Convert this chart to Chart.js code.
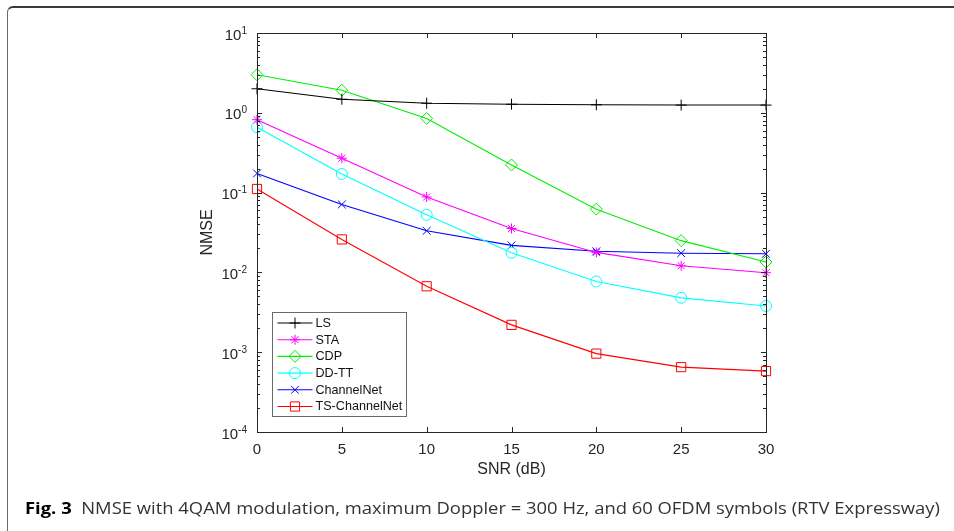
<!DOCTYPE html>
<html>
<head>
<meta charset="utf-8">
<script src="https://cdn.jsdelivr.net/npm/chart.js@4.4.0/dist/chart.umd.min.js"></script>
<style>
  html, body { margin: 0; padding: 0; background: #fff; }
  #wrap { position: relative; width: 954px; height: 531px; overflow: hidden; }
  #frame {
    position: absolute; left: 7px; top: 6px; width: 980px; height: 560px;
    border-top: 2px solid #3a3a3a; border-left: 1.5px solid #6a6a6a;
    border-top-left-radius: 6px;
  }
  #chart { position: absolute; left: 0; top: 0; }
  #caption {
    position: absolute; left: 25px; top: 497px;
    font-family: "Open Sans", "Noto Sans", sans-serif; font-size: 16px;
    color: #333; white-space: nowrap; transform-origin: 0 0;
  }
  #caption b { color: #000; }
</style>
</head>
<body>
<div id="wrap">
  <div id="frame"></div>
  <canvas id="chart" width="954" height="531"></canvas>
  <div id="caption"><b>Fig. 3</b>&nbsp; NMSE with 4QAM modulation, maximum Doppler = 300 Hz, and 60 OFDM symbols (RTV Expressway)</div>
</div>
<script>
// values
const snr = [0, 5, 10, 15, 20, 25, 30];
const nmseLS = [2.0, 1.48, 1.32, 1.28, 1.26, 1.25, 1.25];
const nmseSTA = [0.82, 0.27, 0.088, 0.0355, 0.0178, 0.0121, 0.0099];
const nmseCDP = [3.0, 1.92, 0.85, 0.222, 0.062, 0.025, 0.0135];
const nmseDDTT = [0.66, 0.171, 0.0526, 0.0176, 0.0077, 0.0048, 0.0038];
const nmseChannelNet = [0.174, 0.071, 0.0332, 0.0218, 0.0184, 0.0174, 0.0171];
const nmseTSChannelNet = [0.111, 0.0259, 0.0067, 0.0022, 0.00096, 0.00065, 0.00058];

const xTicks = [0, 5, 10, 15, 20, 25, 30];
const yExponents = [-4, -3, -2, -1, 0, 1];

const axisColor = "#262626";
const fontFam = '"Liberation Sans", Arial, sans-serif';

function series(label, values, color, style, radius) {
  return {
    label: label,
    data: snr.map((x, i) => ({ x: x, y: values[i] })),
    borderColor: color,
    backgroundColor: "rgba(0,0,0,0)",
    borderWidth: 1.1,
    pointStyle: style,
    pointRadius: radius,
    pointHoverRadius: radius,
    pointBorderColor: color,
    pointBackgroundColor: "rgba(0,0,0,0)",
    pointBorderWidth: 1,
    tension: 0,
    clip: false
  };
}

// small marker painter for the legend samples
function drawMarker(ctx, style, x, y, r) {
  ctx.beginPath();
  if (style === "cross") {
    ctx.moveTo(x - r, y); ctx.lineTo(x + r, y);
    ctx.moveTo(x, y - r); ctx.lineTo(x, y + r);
  } else if (style === "crossRot") {
    const d = r * Math.SQRT1_2;
    ctx.moveTo(x - d, y - d); ctx.lineTo(x + d, y + d);
    ctx.moveTo(x - d, y + d); ctx.lineTo(x + d, y - d);
  } else if (style === "star") {
    const d = r * Math.SQRT1_2;
    ctx.moveTo(x - r, y); ctx.lineTo(x + r, y);
    ctx.moveTo(x, y - r); ctx.lineTo(x, y + r);
    ctx.moveTo(x - d, y - d); ctx.lineTo(x + d, y + d);
    ctx.moveTo(x - d, y + d); ctx.lineTo(x + d, y - d);
  } else if (style === "rectRot") {
    ctx.moveTo(x, y - r); ctx.lineTo(x + r, y);
    ctx.lineTo(x, y + r); ctx.lineTo(x - r, y); ctx.closePath();
  } else if (style === "rect") {
    const s = r * Math.SQRT1_2;
    ctx.rect(x - s, y - s, 2 * s, 2 * s);
  } else {
    ctx.arc(x, y, r, 0, Math.PI * 2);
  }
  ctx.stroke();
}

const matlabAxes = {
  id: "matlabAxes",
  afterDatasetsDraw(chart) {
    const ctx = chart.ctx;
    const a = chart.chartArea;
    const xs = chart.scales.x, ys = chart.scales.y;
    ctx.save();
    ctx.strokeStyle = axisColor;
    ctx.lineWidth = 1;

    // box
    ctx.strokeRect(Math.round(a.left) + 0.5, Math.round(a.top) + 0.5,
      Math.round(a.right - a.left), Math.round(a.bottom - a.top));

    // x ticks, inward top and bottom
    ctx.beginPath();
    xTicks.forEach(v => {
      const px = Math.round(xs.getPixelForValue(v)) + 0.5;
      ctx.moveTo(px, a.bottom); ctx.lineTo(px, a.bottom - 5);
      ctx.moveTo(px, a.top); ctx.lineTo(px, a.top + 5);
    });
    // y ticks, major and minor
    yExponents.forEach(e => {
      const py = Math.round(ys.getPixelForValue(Math.pow(10, e))) + 0.5;
      ctx.moveTo(a.left, py); ctx.lineTo(a.left + 5, py);
      ctx.moveTo(a.right, py); ctx.lineTo(a.right - 5, py);
      if (e < yExponents[yExponents.length - 1]) {
        for (let m = 2; m <= 9; m++) {
          const pm = Math.round(ys.getPixelForValue(m * Math.pow(10, e))) + 0.5;
          ctx.moveTo(a.left, pm); ctx.lineTo(a.left + 3, pm);
          ctx.moveTo(a.right, pm); ctx.lineTo(a.right - 3, pm);
        }
      }
    });
    ctx.stroke();

    // y tick labels 10^e
    ctx.fillStyle = axisColor;
    ctx.textBaseline = "alphabetic";
    yExponents.forEach(e => {
      const py = ys.getPixelForValue(Math.pow(10, e));
      const sup = e < 0 ? "-" + Math.abs(e) : String(e);
      ctx.font = "10px " + fontFam;
      const ws = ctx.measureText(sup).width;
      const right = a.left - 10;
      ctx.textAlign = "left";
      ctx.fillText(sup, right - ws, py + 0.5);
      ctx.font = "15px " + fontFam;
      ctx.textAlign = "right";
      ctx.fillText("10", right - ws, py + 6.5);
    });
    ctx.restore();
  },
  afterDraw(chart) {
    // legend, southwest corner like matlab
    const ctx = chart.ctx;
    const a = chart.chartArea;
    const sets = chart.data.datasets;
    ctx.save();
    ctx.font = "12.6px " + fontFam;
    const textW = Math.max(...sets.map(d => ctx.measureText(d.label).width));
    const rowH = 16.7;
    const w = 43 + textW + 4;
    const h = rowH * sets.length + 3.5;
    const x0 = Math.round(a.left + 15) + 0.5;
    const y0 = Math.round(a.bottom - 16 - h) + 0.5;
    ctx.fillStyle = "#fff";
    ctx.fillRect(x0, y0, w, h);
    ctx.strokeStyle = "#6a6a6a";
    ctx.lineWidth = 1;
    ctx.strokeRect(x0, y0, Math.round(w), Math.round(h));
    sets.forEach((d, i) => {
      const cy = y0 + 10.5 + i * rowH;
      ctx.strokeStyle = d.borderColor;
      ctx.lineWidth = 1.1;
      ctx.beginPath();
      ctx.moveTo(x0 + 5, cy); ctx.lineTo(x0 + 40, cy);
      ctx.stroke();
      ctx.lineWidth = 1;
      drawMarker(ctx, d.pointStyle, x0 + 22.5, cy, d.pointRadius);
      ctx.fillStyle = "#111";
      ctx.textAlign = "left";
      ctx.textBaseline = "middle";
      ctx.fillText(d.label, x0 + 43, cy + 0.5);
    });
    ctx.restore();
  }
};

const ctx = document.getElementById("chart").getContext("2d");
const chart = new Chart(ctx, {
  type: "line",
  data: {
    datasets: [
      series("LS", nmseLS, "#000000", "cross", 5.5),
      series("STA", nmseSTA, "#ff00ff", "star", 5),
      series("CDP", nmseCDP, "#00ee00", "rectRot", 6),
      series("DD-TT", nmseDDTT, "#00ffff", "circle", 5.5),
      series("ChannelNet", nmseChannelNet, "#0000ff", "crossRot", 5.5),
      series("TS-ChannelNet", nmseTSChannelNet, "#ff0000", "rect", 6.5)
    ]
  },
  options: {
    responsive: false,
    animation: false,
    events: [],
    layout: { padding: { left: 0, right: 188, top: 33, bottom: 0 } },
    plugins: { legend: { display: false }, tooltip: { enabled: false } },
    scales: {
      x: {
        type: "linear",
        min: 0,
        max: 30,
        afterBuildTicks: (scale) => { scale.ticks = xTicks.map(v => ({ value: v })); },
        afterFit: (scale) => { scale.height = 99; },
        grid: { display: false },
        border: { display: false },
        ticks: { autoSkip: false, maxRotation: 0, padding: 1, color: axisColor, font: { family: fontFam, size: 15 } },
        title: { display: true, text: "SNR (dB)", color: axisColor, padding: { top: 0, bottom: 52 }, font: { family: fontFam, size: 16 } }
      },
      y: {
        type: "logarithmic",
        min: 1e-4,
        max: 10,
        afterFit: (scale) => { scale.width = 257; },
        grid: { display: false },
        border: { display: false },
        ticks: { display: false },
        title: { display: true, text: "NMSE", color: axisColor, padding: { top: 198, bottom: 0 }, font: { family: fontFam, size: 16 } }
      }
    }
  },
  plugins: [matlabAxes]
});

// fit caption to the width used in the figure
const cap = document.getElementById("caption");
const capW = cap.getBoundingClientRect().width;
cap.style.transform = "scaleX(" + (915 / capW) + ")";
</script>
</body>
</html>
